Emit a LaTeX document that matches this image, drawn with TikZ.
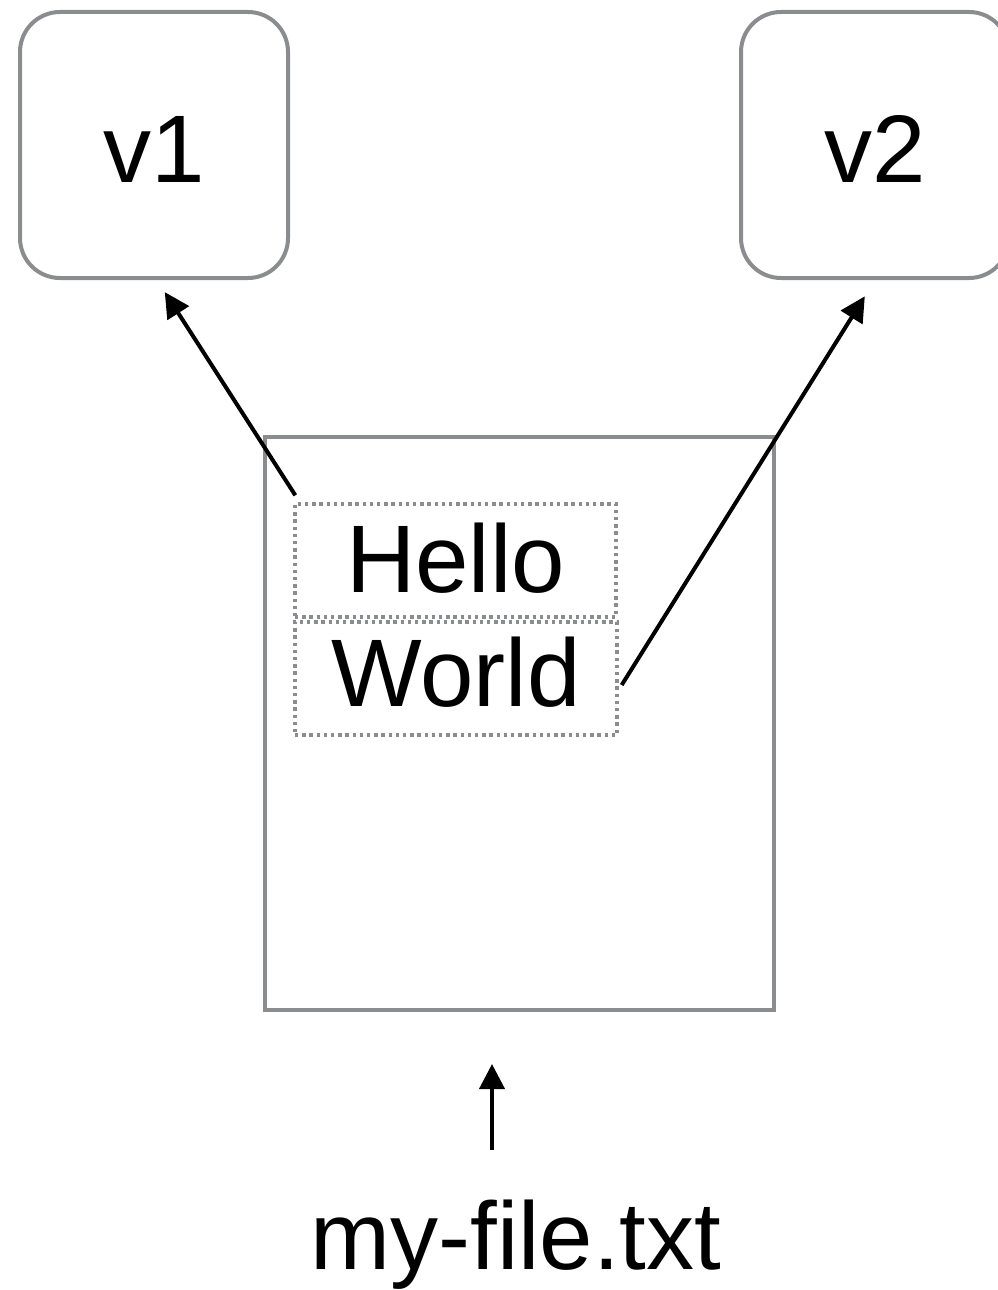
\documentclass[tikz,border=0pt]{standalone}
\usepackage{fontspec}
\setmainfont{Liberation Sans}
\usetikzlibrary{arrows.meta}
\definecolor{frame}{HTML}{8A8C8F}
\tikzset{
  big/.style={font=\fontsize{96}{100}\selectfont},
  version/.style={big, draw=frame, line width=4pt, rounded corners=40pt,
    minimum width=268pt, minimum height=266pt, inner sep=0pt,
    text height=74pt, text depth=0pt},
  doc/.style={draw=frame, line width=4pt, minimum width=509pt,
    minimum height=573pt, inner sep=0pt},
  chunk/.style={big, draw=frame, line width=3.4pt, dash pattern=on 3.4pt off 3.8pt,
    inner sep=0pt},
  caption/.style={big, inner sep=0pt, anchor=base},
  link/.style={-{Triangle[length=25pt,width=25pt]}, line width=4pt, black},
}
\begin{document}
\begin{tikzpicture}[x=1pt,y=-1pt]
\useasboundingbox (0,0) rectangle (998,1290);

% the two versions
\node[version] (v1) at (154,145) {v1};
\node[version] (v2) at (875,145) {v2};

% the file and its two pieces of content
\node[doc] (page) at (519.5,723.5) {};
\node[chunk, minimum width=321pt, minimum height=113pt, text depth=5pt]
  (hello) at (455.5,560.5) {Hello};
\node[chunk, minimum width=322pt, minimum height=113pt, text depth=13pt]
  (world) at (456,678.5) {World};

% file name underneath
\node[caption] (file) at (516,1269) {my-file.txt};
\coordinate (tail) at (492,1150);

% connectors
\draw[link, shorten >=14.4pt] ([xshift=2pt,yshift=7pt]hello.north west)
  -- ([xshift=3pt]v1.south);
\draw[link, shorten >=19.2pt] ([xshift=3pt,yshift=-6.5pt]world.east)
  -- (v2.south);
\draw[link, shorten >=52pt] (tail) -- ([xshift=-27.5pt]page.south);
\end{tikzpicture}
\end{document}
